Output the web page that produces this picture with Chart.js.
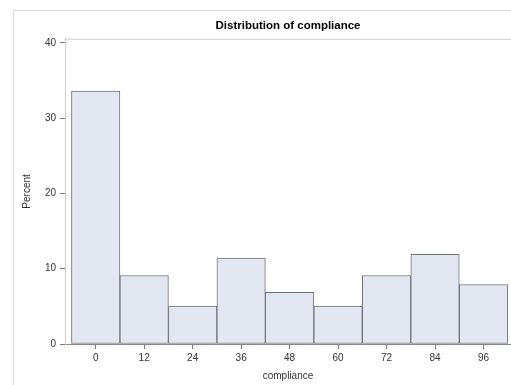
<!DOCTYPE html>
<html>
<head>
<meta charset="utf-8">
<script src="https://cdn.jsdelivr.net/npm/chart.js@4/dist/chart.umd.min.js"></script>
<style>
  html, body { margin: 0; padding: 0; background: #fff; }
  canvas { display: block; }
</style>
</head>
<body>
<canvas id="hist" width="511" height="385"></canvas>
<script>
// histogram data (bin midpoints and percent of obs)
const binMids = [0, 12, 24, 36, 48, 60, 72, 84, 96];
const percents = [33.6, 9.1, 5.05, 11.4, 6.85, 5.05, 9.1, 11.9, 7.9];
const yTicks = [0, 10, 20, 30, 40];

const FONT = '"Liberation Sans", Arial, sans-serif';

// outer graph border + top wall line
const framePlugin = {
    id: 'frame',
    beforeDraw(chart) {
        const ctx = chart.ctx;
        const area = chart.chartArea;
        ctx.save();
        ctx.strokeStyle = '#dadada';
        ctx.lineWidth = 1;
        ctx.beginPath();
        ctx.moveTo(13.5, 385);
        ctx.lineTo(13.5, 10.5);
        ctx.lineTo(511, 10.5);
        ctx.stroke();
        ctx.strokeStyle = '#d0d0d0';
        ctx.beginPath();
        ctx.moveTo(area.left, area.top + 0.5);
        ctx.lineTo(area.right, area.top + 0.5);
        ctx.stroke();
        ctx.restore();
    }
};

new Chart(document.getElementById('hist'), {
    type: 'bar',
    data: {
        datasets: [{
            data: binMids.map((x, i) => ({ x: x, y: percents[i] })),
            backgroundColor: '#e3e7f1',
            borderColor: '#6f727a',
            borderWidth: 1,
            borderSkipped: false,
            barPercentage: 1,
            categoryPercentage: 1
        }]
    },
    options: {
        responsive: false,
        animation: false,
        devicePixelRatio: 1,
        layout: { padding: 0 },
        plugins: {
            legend: { display: false },
            tooltip: { enabled: false },
            title: {
                display: true,
                text: 'Distribution of compliance',
                fullSize: false,
                color: '#000',
                font: { family: FONT, size: 11.5, weight: 'bold' },
                padding: { top: 19, bottom: 6 }
            }
        },
        scales: {
            x: {
                type: 'linear',
                offset: false,
                min: -7.6,
                max: 102.8,
                afterBuildTicks: s => { s.ticks = binMids.map(v => ({ value: v })); },
                afterFit: s => { s.height = 41; },
                grid: { offset: false, drawOnChartArea: false, tickLength: 5, tickColor: '#7a7a7a' },
                border: { color: '#8a8a8a' },
                ticks: { color: '#333', padding: 3, font: { family: FONT, size: 10 } },
                title: {
                    display: true, text: 'compliance', color: '#333',
                    font: { family: FONT, size: 10 }, padding: { top: 0, bottom: 3 }
                }
            },
            y: {
                min: 0,
                max: 40.54,
                afterBuildTicks: s => { s.ticks = yTicks.map(v => ({ value: v })); },
                afterFit: s => { s.width = 65; },
                grid: { drawOnChartArea: false, tickLength: 5, tickColor: '#7a7a7a' },
                border: { color: '#cfcfcf' },
                ticks: { color: '#333', padding: 4, font: { family: FONT, size: 10 } },
                title: {
                    display: true, text: 'Percent', color: '#333',
                    font: { family: FONT, size: 10 }, padding: { top: 21, bottom: 0 }
                }
            }
        }
    },
    plugins: [framePlugin]
});
</script>
</body>
</html>
